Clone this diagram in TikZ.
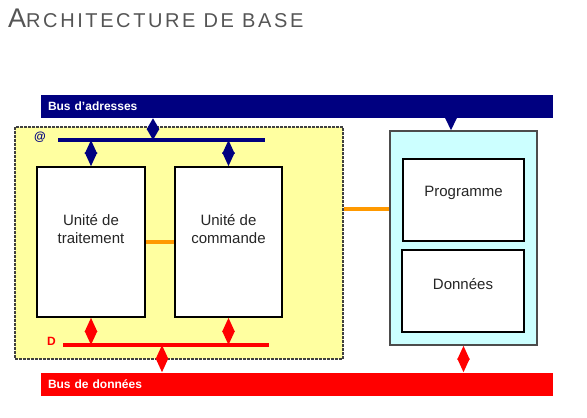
\documentclass[tikz,border=0pt]{standalone}
\usepackage{fontspec}
\setmainfont{Liberation Sans}
\newfontfamily\titlefont[LetterSpace=13]{Liberation Sans}
\usepackage{tikz}
\usetikzlibrary{arrows.meta}

\definecolor{busblue}{RGB}{0,0,128}
\definecolor{busred}{RGB}{255,0,0}
\definecolor{cpuyellow}{RGB}{255,255,160}
\definecolor{memcyan}{RGB}{204,255,255}
\definecolor{linkorange}{RGB}{255,153,0}
\definecolor{titlegray}{RGB}{85,85,85}

\tikzset{
  bus/.style={minimum width=512pt, minimum height=23pt, text width=498pt,
    align=left, inner xsep=7pt, text=white, font=\fontsize{12}{14}\selectfont\bfseries},
  unitbox/.style={draw=black, line width=1.5pt, fill=white},
  boxtext/.style={align=center, font=\fontsize{15}{18}\selectfont, text=black!85},
  buslabel/.style={font=\fontsize{12}{14}\selectfont\bfseries},
  dia/.style={line width=2pt, {Triangle[length=#1,width=12pt]}-{Triangle[length=#1,width=12pt]}},
  dia/.default=13.8pt,
  link/.style={linkorange, line width=3.5pt}
}

\begin{document}
\begin{tikzpicture}[x=1pt,y=-1pt]
  \useasboundingbox (0,0) rectangle (587,418);
  \node[anchor=base west, inner sep=0pt, text=titlegray] (title) at (8,27.7)
    {\titlefont{\fontsize{27}{30}\selectfont A}\fontsize{20}{24}\selectfont RCHITECTURE DE BASE};

  % buses
  \node[bus, fill=busblue] (abus) at (297,106.5) {Bus d’adresses};
  \node[bus, fill=busred] (dbus) at (297,384) {Bus de données};

  % processor and memory
  \node[draw=black!75, fill=cpuyellow, line width=1.2pt, dash pattern=on 3pt off 1pt,
    minimum width=328pt, minimum height=232pt] (cpu) at (179,243) {};
  \node[draw=black!70, fill=memcyan, line width=1.5pt,
    minimum width=147pt, minimum height=214pt] (mem) at (463.5,238) {};

  \node[unitbox, minimum width=108pt, minimum height=150pt] (ut) at (91,242) {};
  \node[boxtext] (uttext) at (91,229) {Unité de\\traitement};
  \node[unitbox, minimum width=107pt, minimum height=150pt] (uc) at (228.5,242) {};
  \node[boxtext] (uctext) at (228.5,229) {Unité de\\commande};
  \node[unitbox, minimum width=121pt, minimum height=82pt] (prog) at (463.5,200) {};
  \node[boxtext] (progtext) at (463.5,193) {Programme};
  \node[unitbox, minimum width=122pt, minimum height=82pt] (data) at (463,291) {};
  \node[boxtext] (datatext) at (463,284) {Données};

  % internal buses
  \coordinate (a1) at (58,140);
  \coordinate (a2) at (265,140);
  \coordinate (d1) at (63,345);
  \coordinate (d2) at (269,345);
  \draw[busblue, line width=4.5pt] (a1) -- (a2);
  \draw[busred, line width=4.5pt] (d1) -- (d2);
  \node[buslabel, text=busblue] (alabel) at (40,137) {@};
  \node[buslabel, text=busred] (dlabel) at (51.5,341) {D};

  % connections
  \coordinate (atap) at (153,140);
  \coordinate (dtap) at (162,345);
  \coordinate (mtap) at (451,0);
  \coordinate (olink) at (0,209);
  \draw[dia=10.9pt, busblue] (abus.south -| atap) -- (atap);
  \draw[dia, busblue] (a1 -| ut.north) -- (ut.north);
  \draw[dia, busblue] (a1 -| uc.north) -- (uc.north);
  \draw[busblue, line width=2pt, -{Triangle[length=13pt,width=12pt]}] (abus.south -| mtap) -- (mem.north -| mtap);
  \draw[dia, busred] (ut.south) -- (d1 -| ut.south);
  \draw[dia, busred] (uc.south) -- (d1 -| uc.south);
  \draw[dia, busred] (dtap) -- (dbus.north -| dtap);
  \draw[dia, busred] (mem.south) -- (dbus.north -| mem.south);
  \draw[link] (ut.east) -- (uc.west);
  \draw[link] (cpu.east |- olink) -- (mem.west |- olink);
\end{tikzpicture}
\end{document}
